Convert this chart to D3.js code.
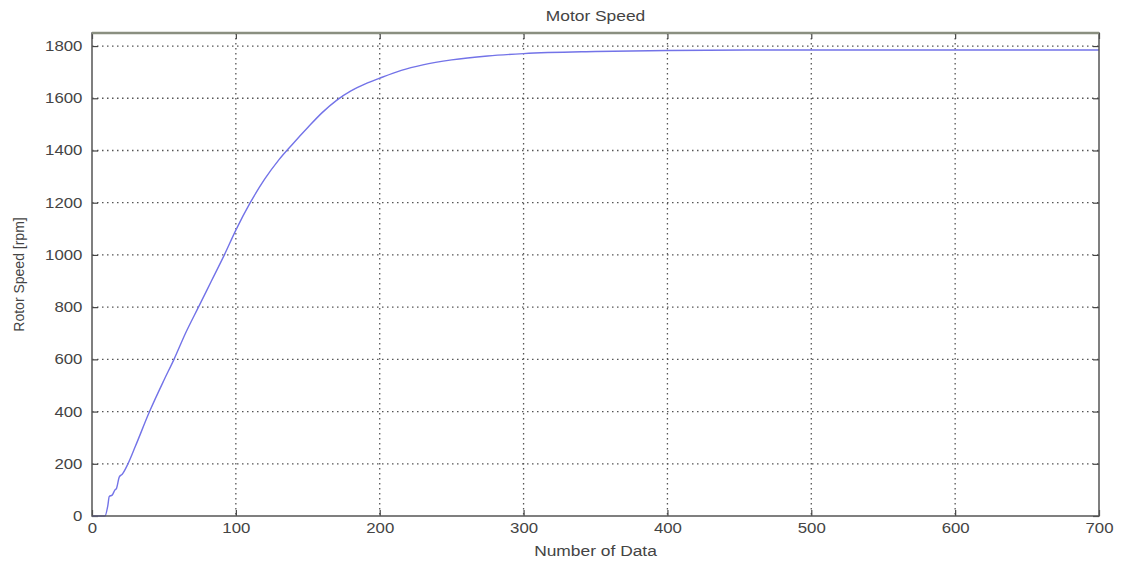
<!DOCTYPE html>
<html>
<head>
<meta charset="utf-8">
<script src="https://cdn.jsdelivr.net/npm/d3@7"></script>
<style>
  body { margin: 0; background: #fff; }
  text { font-family: "Liberation Sans", Arial, sans-serif; fill: #444; }
</style>
</head>
<body>
<div id="chart"></div>
<script>
var w = 1127;
var h = 565;

// readings
var sampleIdx = [0, 9, 11, 12, 14, 16, 17, 19, 21, 25, 30, 40, 50, 57, 65, 74, 83, 92, 100, 110, 120, 130, 140, 150, 160, 170, 180, 190, 200, 215, 230, 250, 275, 300, 350, 400, 500, 600, 700];
var rotorSpeed = [0, 0, 40, 75, 80, 100, 105, 150, 160, 200, 265, 400, 520, 600, 700, 800, 900, 1000, 1095, 1200, 1290, 1365, 1428, 1488, 1545, 1592, 1628, 1655, 1677, 1707, 1728, 1747, 1762, 1771, 1779, 1783, 1785, 1785, 1785];
var xTicks = [0, 100, 200, 300, 400, 500, 600, 700];
var yTicks = [0, 200, 400, 600, 800, 1000, 1200, 1400, 1600, 1800];

var margin = {left: 92, right: 28, top: 33, bottom: 49};
var iw = w - margin.left - margin.right;
var ih = h - margin.top - margin.bottom;
var stretch = 1.2; // the source picture is a bit wide

var x = d3.scaleLinear().domain([0, 700]).range([0, iw]);
var y = d3.scaleLinear().domain([0, 1850]).range([ih, 0]);

var svg = d3.select("#chart").append("svg")
  .attr("width", w)
  .attr("height", h);

var g = svg.append("g")
  .attr("transform", "translate(" + margin.left + "," + margin.top + ")");

//grid
g.append("g").selectAll("line")
    .data(xTicks.slice(1, -1))
  .enter().append("line")
    .attr("x1", function(d) { return x(d); })
    .attr("x2", function(d) { return x(d); })
    .attr("y1", 0)
    .attr("y2", ih)
    .style("stroke", "#555")
    .style("stroke-width", 1.3)
    .style("stroke-dasharray", "1.5,3.5");

g.append("g").selectAll("line")
    .data(yTicks.slice(1))
  .enter().append("line")
    .attr("x1", 0)
    .attr("x2", iw)
    .attr("y1", function(d) { return y(d); })
    .attr("y2", function(d) { return y(d); })
    .style("stroke", "#555")
    .style("stroke-width", 1.3)
    .style("stroke-dasharray", "1.5,3.5");

//axes, ticks inward like matlab
function styleAxis(sel) {
  sel.select(".domain").remove();
  sel.selectAll(".tick line").style("stroke", "#444").style("stroke-width", 1.2);
  sel.selectAll(".tick text")
    .style("font-size", "14px")
    .style("fill", "#444")
    .attr("transform", "scale(" + stretch + ",1)");
}

var fmt = d3.format("d");

g.append("g")
  .attr("transform", "translate(0," + ih + ")")
  .call(d3.axisBottom(x).tickValues(xTicks).tickFormat(fmt).tickSize(-6).tickPadding(7))
  .call(styleAxis);

g.append("g")
  .call(d3.axisLeft(y).tickValues(yTicks).tickFormat(fmt).tickSize(-6).tickPadding(8))
  .call(styleAxis);

g.append("g")
  .call(d3.axisTop(x).tickValues(xTicks).tickSize(-6).tickFormat(""))
  .call(styleAxis);

g.append("g")
  .attr("transform", "translate(" + iw + ",0)")
  .call(d3.axisRight(y).tickValues(yTicks).tickSize(-6).tickFormat(""))
  .call(styleAxis);

//curve
var line = d3.line()
  .x(function(d, i) { return x(sampleIdx[i]); })
  .y(function(d) { return y(d); })
  .curve(d3.curveMonotoneX);

g.append("path")
  .datum(rotorSpeed)
  .attr("d", line)
  .style("fill", "none")
  .style("stroke", "#7373e8")
  .style("stroke-width", 1.4);

//box
g.append("rect")
  .attr("width", iw)
  .attr("height", ih)
  .style("fill", "none")
  .style("stroke", "#555")
  .style("stroke-width", 1.5);
g.append("line")
  .attr("x1", 0).attr("x2", iw)
  .attr("y1", 0).attr("y2", 0)
  .style("stroke", "#8a8f80")
  .style("stroke-width", 2.5);

//labels
svg.append("text")
  .attr("transform", "translate(" + (margin.left + iw / 2) + ",21) scale(" + stretch + ",1)")
  .attr("text-anchor", "middle")
  .style("font-size", "14.5px")
  .text("Motor Speed");

svg.append("text")
  .attr("transform", "translate(" + (margin.left + iw / 2) + ",556) scale(" + stretch + ",1)")
  .attr("text-anchor", "middle")
  .style("font-size", "14.5px")
  .text("Number of Data");

svg.append("text")
  .attr("transform", "translate(24," + (margin.top + ih / 2) + ") rotate(-90)")
  .attr("text-anchor", "middle")
  .style("font-size", "14px")
  .text("Rotor Speed [rpm]");
</script>
</body>
</html>
